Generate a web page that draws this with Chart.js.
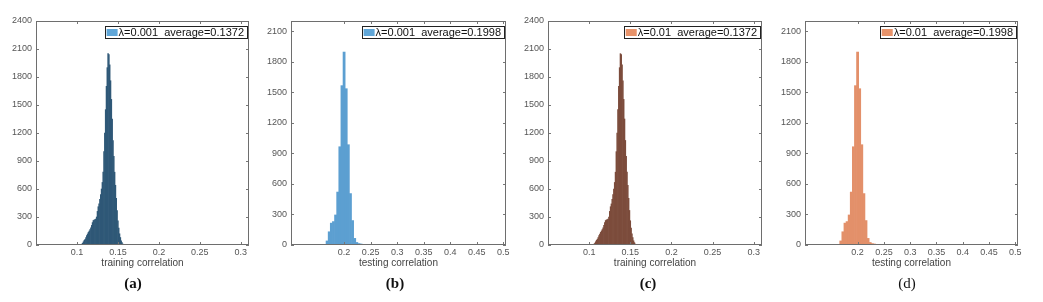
<!DOCTYPE html>
<html><head><meta charset="utf-8">
<script src="https://cdn.jsdelivr.net/npm/chart.js@4.4.0/dist/chart.umd.min.js"></script>
<style>
body{margin:0;background:#fff;width:1043px;height:302px;overflow:hidden;position:relative}
.p{position:absolute;top:0;height:302px}
.cap{position:absolute;top:275px;line-height:16px;font-family:"Liberation Serif","Times New Roman",serif;font-size:15px;font-weight:bold;color:#111;transform:translateX(-50%)}
</style></head><body>
<div class="p" style="left:0;width:260px"><canvas id="ca"></canvas></div>
<div class="p" style="left:255px;width:265px"><canvas id="cb"></canvas></div>
<div class="p" style="left:512px;width:260px"><canvas id="cc"></canvas></div>
<div class="p" style="left:769px;width:265px"><canvas id="cd"></canvas></div>
<div class="cap" style="left:133px">(a)</div>
<div class="cap" style="left:395px">(b)</div>
<div class="cap" style="left:648px">(c)</div>
<div class="cap" style="left:907px;font-weight:normal">(d)</div>
<script>
// ---- data ----
const binsTrain = [0.105,0.106,0.107,0.108,0.109,0.110,0.111,0.112,0.113,0.114,0.115,0.116,0.117,0.118,0.119,0.120,0.121,0.122,0.123,0.124,0.125,0.126,0.127,0.128,0.129,0.130,0.131,0.132,0.133,0.134,0.135,0.136,0.137,0.138,0.139,0.140,0.141,0.142,0.143,0.144,0.145,0.146,0.147,0.148,0.149,0.150,0.151,0.152,0.153,0.154,0.155,0.156,0.157];
const countsA = [3,10,20,35,50,62,80,100,118,135,150,165,185,210,240,262,268,272,278,300,360,410,440,490,540,600,670,780,1000,1200,1450,1700,1900,2050,2040,1930,1760,1560,1350,1120,950,780,640,500,370,260,180,120,80,45,25,10,3];
const countsC = [3,10,20,35,50,62,80,100,118,135,150,165,185,210,240,262,268,272,278,300,360,410,440,490,540,600,670,780,1000,1200,1450,1700,1900,2050,2040,1930,1760,1560,1350,1120,950,780,640,500,370,260,180,120,80,45,25,10,3];
const binsTest = [0.168,0.172,0.176,0.180,0.184,0.188,0.192,0.196,0.200,0.204,0.208,0.212,0.216,0.220,0.224,0.228,0.232,0.236,0.240,0.248,0.256,0.264,0.276,0.288,0.300,0.312,0.332];
const countsB = [40,130,215,230,295,520,965,1565,1895,1535,985,505,240,65,25,14,10,6,4,5,4,6,3,5,3,2,6];
const countsD = [40,130,215,230,295,520,965,1565,1895,1535,985,505,240,65,25,14,10,6,4,5,4,6,3,5,3,2,6];
const xTicksTrain = [0.1,0.15,0.2,0.25,0.3];
const xTicksTest = [0.2,0.25,0.3,0.35,0.4,0.45,0.5];
const yTicksTrain = [0,300,600,900,1200,1500,1800,2100,2400];
const yTicksTest = [0,300,600,900,1200,1500,1800,2100];
const legendA = "λ=0.001  average=0.1372";
const legendB = "λ=0.001  average=0.1998";
const legendC = "λ=0.01  average=0.1372";
const legendD = "λ=0.01  average=0.1998";

const FONT = "'Liberation Sans', Arial, sans-serif";

const framePlugin = {
  id:'frame',
  afterDatasetsDraw(chart){
    const {ctx, chartArea:a, scales:{x,y}} = chart;
    const p = chart.options.plugins.frame;
    ctx.save();
    ctx.strokeStyle = '#777';
    ctx.lineWidth = 1;
    ctx.beginPath();
    x.ticks.forEach(t=>{
      const px = Math.round(x.getPixelForValue(t.value))+0.5;
      ctx.moveTo(px,a.bottom); ctx.lineTo(px,a.bottom-3);
      ctx.moveTo(px,a.top); ctx.lineTo(px,a.top+3);
    });
    y.ticks.forEach(t=>{
      const py = Math.round(y.getPixelForValue(t.value))+0.5;
      ctx.moveTo(a.left,py); ctx.lineTo(a.left+3,py);
      ctx.moveTo(a.right,py); ctx.lineTo(a.right-3,py);
    });
    ctx.stroke();
    ctx.strokeStyle = '#6e6e6e';
    ctx.strokeRect(Math.round(a.left)+0.5, Math.round(a.top)+0.5, Math.round(a.right-a.left)-1, Math.round(a.bottom-a.top)-1);
    // legend box
    ctx.font = '11px ' + FONT;
    const tw = ctx.measureText(p.text).width;
    const bw = 2 + 11 + 1 + tw + 3;
    const right = Math.round(a.right) - 2;
    const left = right - bw;
    const top = Math.round(a.top) + 5;
    ctx.fillStyle = '#fff';
    ctx.fillRect(left, top, bw, 12);
    ctx.strokeStyle = '#222';
    ctx.strokeRect(Math.round(left)+0.5, top+0.5, Math.round(bw), 12);
    ctx.fillStyle = p.patch;
    ctx.fillRect(left+2, top+3, 11, 7);
    ctx.fillStyle = '#111';
    ctx.textBaseline = 'middle';
    ctx.textAlign = 'left';
    ctx.fillText(p.text, left+14, top+6.5);
    ctx.restore();
  }
};

function makeChart(id, p){
  return new Chart(document.getElementById(id), {
    type:'bar',
    data:{datasets:[{
      label:p.legend,
      data:p.bins.map((b,i)=>({x:b,y:p.counts[i]})),
      backgroundColor:p.fill, borderWidth:0,
      barPercentage:1, categoryPercentage:1
    }]},
    options:{
      responsive:true, maintainAspectRatio:false, animation:false, devicePixelRatio:1,
      layout:{padding:{left:0,right:p.padRight,top:21,bottom:27}},
      plugins:{legend:{display:false}, tooltip:{enabled:false}, frame:{text:p.legend, patch:p.patch}},
      scales:{
        x:{type:'linear', min:p.xmin, max:p.xmax, offset:false,
          grid:{display:false, drawTicks:false, tickLength:0}, border:{display:false},
          afterBuildTicks:s=>{s.ticks=p.xticks.map(v=>({value:v}));},
          afterFit:s=>{s.height=30;},
          ticks:{autoSkip:false, maxRotation:0, minRotation:0, padding:2, color:'#555', font:{size:9,family:FONT}, callback:v=>String(v)},
          title:{display:true, text:p.xlabel, color:'#444', font:{size:10,family:FONT}, padding:{top:0,bottom:6}}
        },
        y:{type:'linear', min:0, max:p.ymax,
          grid:{display:false, drawTicks:false, tickLength:0}, border:{display:false},
          afterBuildTicks:s=>{s.ticks=p.yticks.map(v=>({value:v}));},
          afterFit:s=>{s.width=36;},
          ticks:{padding:4, color:'#555', font:{size:9,family:FONT}, callback:v=>String(v)}
        }
      }
    },
    plugins:[framePlugin]
  });
}

makeChart('ca',{bins:binsTrain,counts:countsA,fill:'#2f5877',patch:'#5fa6d8',legend:legendA,xmin:0.05,xmax:0.31,ymax:2400,xticks:xTicksTrain,yticks:yTicksTrain,xlabel:'training correlation',padRight:11});
makeChart('cb',{bins:binsTest,counts:countsB,fill:'#5c9fd1',patch:'#5fa6d8',legend:legendB,xmin:0.1,xmax:0.505,ymax:2200,xticks:xTicksTest,yticks:yTicksTest,xlabel:'testing correlation',padRight:14});
makeChart('cc',{bins:binsTrain,counts:countsC,fill:'#7c4c3c',patch:'#e8936a',legend:legendC,xmin:0.05,xmax:0.31,ymax:2400,xticks:xTicksTrain,yticks:yTicksTrain,xlabel:'training correlation',padRight:10});
makeChart('cd',{bins:binsTest,counts:countsD,fill:'#e3906a',patch:'#e8936a',legend:legendD,xmin:0.1,xmax:0.505,ymax:2200,xticks:xTicksTest,yticks:yTicksTest,xlabel:'testing correlation',padRight:16});
</script>
</body></html>
